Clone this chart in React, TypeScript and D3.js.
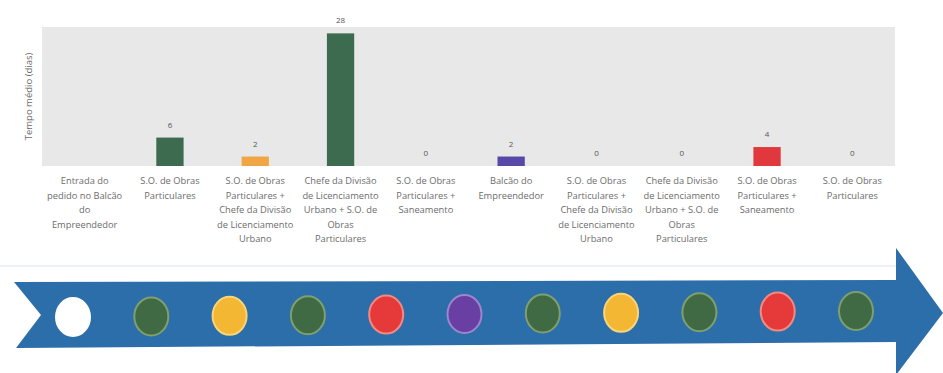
import React from "react";
import * as d3 from "d3";

const categories: string[][] = [
  ["Entrada do", "pedido no Balcão", "do", "Empreendedor"],
  ["S.O. de Obras", "Particulares"],
  ["S.O. de Obras", "Particulares +", "Chefe da Divisão", "de Licenciamento", "Urbano"],
  ["Chefe da Divisão", "de Licenciamento", "Urbano + S.O. de", "Obras", "Particulares"],
  ["S.O. de Obras", "Particulares +", "Saneamento"],
  ["Balcão do", "Empreendedor"],
  ["S.O. de Obras", "Particulares +", "Chefe da Divisão", "de Licenciamento", "Urbano"],
  ["Chefe da Divisão", "de Licenciamento", "Urbano + S.O. de", "Obras", "Particulares"],
  ["S.O. de Obras", "Particulares +", "Saneamento"],
  ["S.O. de Obras", "Particulares"],
];
const values: (number | null)[] = [null, 6, 2, 28, 0, 2, 0, 0, 4, 0];
const barColors: string[] = ["#3d6b50", "#3d6b50", "#f0a645", "#3d6b50", "#3d6b50", "#5848a8", "#3d6b50", "#3d6b50", "#e0383c", "#3d6b50"];
const yLabel = "Tempo médio (dias)";

const stepFills: string[] = ["#ffffff", "#3f6a44", "#f4b733", "#3f6a44", "#e5393a", "#6a3fa4", "#3f6a44", "#f4b733", "#3f6a44", "#e5393a", "#3f6a44"];
const stepStrokes: string[] = ["#ffffff", "#7f9f6e", "#f8d47a", "#7f9f6e", "#f28a84", "#9c86cc", "#7f9f6e", "#f8d47a", "#7f9f6e", "#f28a84", "#7f9f6e"];

export default function App() {
  const W = 943, H = 373;
  const plotL = 42, plotR = 895, plotT = 27, plotB = 166;
  const x = d3.scaleBand<number>()
    .domain(values.map((_, i) => i))
    .range([plotL, plotR])
    .paddingInner(0.68)
    .paddingOuter(0.34);
  const y = d3.scaleLinear().domain([0, 28.5]).range([plotB, 31]);

  const sx = d3.scalePoint<number>()
    .domain(stepFills.map((_, i) => i))
    .range([73, 856]);
  const sy = d3.scaleLinear().domain([73, 856]).range([317, 311]);

  const arrowPath = d3.path();
  arrowPath.moveTo(14, 282);
  arrowPath.lineTo(896, 280);
  arrowPath.lineTo(896, 248);
  arrowPath.lineTo(943, 313);
  arrowPath.lineTo(896, 375);
  arrowPath.lineTo(896, 342);
  arrowPath.lineTo(16, 348);
  arrowPath.lineTo(41, 315);
  arrowPath.closePath();

  const font = "'Open Sans', 'Liberation Sans', sans-serif";

  return (
    <svg width={W} height={H} style={{ position: "absolute", left: 0, top: 0, background: "#ffffff" }} fontFamily={font}>
      <rect x={0} y={0} width={W} height={H} fill="#ffffff" />
      <rect x={plotL} y={plotT} width={plotR - plotL} height={plotB - plotT} fill="#e8e8e8" />
      <text transform={`translate(32,${(plotT + plotB) / 2}) rotate(-90)`} textAnchor="middle" fontSize={9.5} fill="#6a6a6a">{yLabel}</text>
      {values.map((v, i) => {
        const cx = (x(i) as number) + x.bandwidth() / 2;
        return (
          <g key={i}>
            {v !== null && v > 0 && (
              <rect x={x(i)} y={y(v)} width={x.bandwidth()} height={plotB - y(v)} fill={barColors[i]} />
            )}
            {v !== null && (
              <text x={cx} y={y(v) - 10} textAnchor="middle" fontSize={8} fill="#555555">{v}</text>
            )}
            {categories[i].map((line, j) => (
              <text key={j} x={cx} y={184 + j * 14.5} textAnchor="middle" fontSize={9.3} fill="#6c6c6c">{line}</text>
            ))}
          </g>
        );
      })}
      <line x1={0} x2={905} y1={266} y2={266} stroke="#edf1f5" strokeWidth={2} />
      <path d={arrowPath.toString()} fill="#2b6ea9" />
      {stepFills.map((c, i) => {
        const cx = sx(i) as number;
        return (
          <ellipse key={i} cx={cx} cy={sy(cx)} rx={17} ry={19} fill={c} stroke={stepStrokes[i]} strokeWidth={2} />
        );
      })}
    </svg>
  );
}
